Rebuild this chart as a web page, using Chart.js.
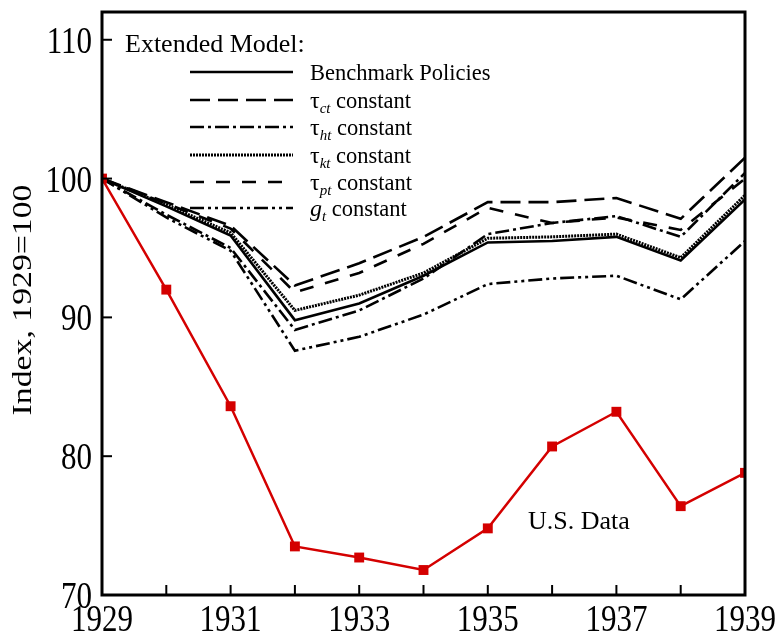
<!DOCTYPE html>
<html>
<head>
<meta charset="utf-8">
<title>Extended Model vs U.S. Data</title>
<script src="https://cdn.jsdelivr.net/npm/chart.js@4.4.1/dist/chart.umd.min.js"></script>
<style>
    html, body { margin: 0; padding: 0; background: #fff; }
    #wrap { width: 776px; height: 638px; }
</style>
</head>
<body>
<div id="wrap"><canvas id="chart" width="776" height="638"></canvas></div>
<script>
const years = [1929, 1930, 1931, 1932, 1933, 1934, 1935, 1936, 1937, 1938, 1939];
const usData = [100, 92.0, 83.6, 73.5, 72.7, 71.8, 74.8, 80.7, 83.2, 76.4, 78.8];
const benchmark = [100, 98.0, 95.9, 89.8, 91.0, 93.0, 95.4, 95.5, 95.8, 94.1, 98.5];
const tauCt = [100, 98.3, 96.6, 92.3, 93.9, 95.8, 98.3, 98.3, 98.6, 97.1, 101.5];
const tauHt = [100, 97.4, 95.0, 89.1, 90.5, 92.8, 96.0, 96.8, 97.3, 95.8, 100.4];
const tauKt = [100, 98.1, 96.1, 90.5, 91.6, 93.2, 95.7, 95.8, 96.0, 94.3, 98.8];
const tauPt = [100, 98.2, 96.4, 91.8, 93.2, 95.3, 97.9, 96.8, 97.2, 96.3, 100.0];
const gConst = [100, 97.2, 94.8, 87.6, 88.6, 90.2, 92.4, 92.8, 93.0, 91.3, 95.5];
const yTicks = [70, 80, 90, 100, 110];

const SERIF = "'Liberation Serif', 'Times New Roman', serif";
const RED = "#d40000";
const STRETCH = 1.25; // axis lettering is drawn a little tall and narrow

// legend rows: dash pattern, symbol + subscript (or plain text)
const legendRows = [
    { dash: [], base: "Benchmark Policies", sub: null, kind: "plain" },
    { dash: [20, 8], base: "\u03c4", sub: "ct", kind: "tau" },
    { dash: [14, 4, 3, 4], base: "\u03c4", sub: "ht", kind: "tau" },
    { dash: [2, 1], base: "\u03c4", sub: "kt", kind: "tau" },
    { dash: [14, 12], base: "\u03c4", sub: "pt", kind: "tau" },
    { dash: [14, 4, 3, 4, 3, 4], base: "g", sub: "t", kind: "g" }
];

function toPoints(values) {
    return values.map((v, i) => ({ x: years[i], y: v }));
}

function blackLine(label, values, dash, width) {
    return {
        label: label,
        data: toPoints(values),
        borderColor: "#000",
        borderWidth: width || 2.6,
        borderDash: dash,
        pointRadius: 0,
        tension: 0,
        order: 2
    };
}

function stretchedText(ctx, text, x, y, sx, sy) {
    ctx.save();
    ctx.translate(x, y);
    ctx.scale(sx, sy);
    ctx.fillText(text, 0, 0);
    ctx.restore();
}

// frame, inward ticks, axis lettering, in-plot legend and the "U.S. Data" note
const framePlugin = {
    id: "frame",
    afterDatasetsDraw(chart) {
        const ctx = chart.ctx;
        const area = chart.chartArea;
        const xs = chart.scales.x;
        const ys = chart.scales.y;

        ctx.save();
        ctx.strokeStyle = "#000";
        ctx.fillStyle = "#000";
        ctx.lineWidth = 2;
        ctx.setLineDash([]);
        xs.ticks.forEach(t => {
            const px = xs.getPixelForValue(t.value);
            ctx.beginPath();
            ctx.moveTo(px, area.bottom);
            ctx.lineTo(px, area.bottom - 10);
            ctx.stroke();
        });
        ys.ticks.forEach(t => {
            const py = ys.getPixelForValue(t.value);
            ctx.beginPath();
            ctx.moveTo(area.left, py);
            ctx.lineTo(area.left + 10, py);
            ctx.stroke();
        });

        ctx.lineWidth = 3;
        ctx.strokeRect(area.left, area.top, area.right - area.left, area.bottom - area.top);

        // tick labels
        ctx.font = "31px " + SERIF;
        ctx.textBaseline = "alphabetic";
        ctx.textAlign = "center";
        xs.ticks.forEach(t => {
            if (t.value % 2 !== 1) return;
            stretchedText(ctx, String(t.value), xs.getPixelForValue(t.value), area.bottom + 36, 1, STRETCH);
        });
        ctx.textAlign = "right";
        ys.ticks.forEach(t => {
            stretchedText(ctx, String(t.value), area.left - 10, ys.getPixelForValue(t.value) + 13, 1, STRETCH);
        });

        // axis title
        ctx.save();
        ctx.translate(31, 300);
        ctx.rotate(-Math.PI / 2);
        ctx.scale(STRETCH, 1);
        ctx.textAlign = "center";
        ctx.font = "27px " + SERIF;
        ctx.fillText("Index, 1929=100", 0, 0);
        ctx.restore();

        // legend
        ctx.textAlign = "left";
        ctx.font = "26px " + SERIF;
        ctx.fillText("Extended Model:", 125, 52);

        const rowY = [72, 100, 127, 155, 182, 208];
        legendRows.forEach((row, i) => {
            const y = rowY[i];
            ctx.beginPath();
            ctx.lineWidth = row.sub === "kt" ? 3 : 2.6;
            ctx.setLineDash(row.dash);
            ctx.moveTo(190, y);
            ctx.lineTo(293, y);
            ctx.stroke();
            ctx.setLineDash([]);

            let x = 310;
            const base = y + 8;
            if (row.kind === "plain") {
                ctx.font = "22.5px " + SERIF;
                ctx.fillText(row.base, x, base);
                return;
            }
            ctx.font = (row.kind === "g" ? "italic " : "") + "24px " + SERIF;
            ctx.fillText(row.base, x, base);
            x += ctx.measureText(row.base).width;
            ctx.font = "italic 15px " + SERIF;
            ctx.fillText(row.sub, x, base + 5);
            x += ctx.measureText(row.sub).width;
            ctx.font = "22.5px " + SERIF;
            ctx.fillText(" constant", x, base);
        });

        ctx.font = "26px " + SERIF;
        ctx.fillText("U.S. Data", 528, 529);
        ctx.restore();
    }
};

new Chart(
    document.getElementById("chart"),
    {
        type: "line",
        data: {
            datasets: [
                {
                    label: "U.S. Data",
                    data: toPoints(usData),
                    borderColor: RED,
                    backgroundColor: RED,
                    borderWidth: 2.5,
                    pointStyle: "rect",
                    pointRadius: 7,
                    pointBorderWidth: 0,
                    tension: 0,
                    order: 1
                },
                blackLine("Benchmark Policies", benchmark, []),
                blackLine("tau_ct constant", tauCt, [20, 8]),
                blackLine("tau_ht constant", tauHt, [14, 4, 3, 4]),
                blackLine("tau_kt constant", tauKt, [2, 1], 3),
                blackLine("tau_pt constant", tauPt, [14, 12]),
                blackLine("g_t constant", gConst, [14, 4, 3, 4, 3, 4])
            ]
        },
        options: {
            responsive: false,
            animation: false,
            layout: { padding: { top: 12, right: 31, left: 0, bottom: 0 } },
            plugins: {
                legend: { display: false },
                tooltip: { enabled: false }
            },
            scales: {
                x: {
                    type: "linear",
                    min: 1929,
                    max: 1939,
                    afterBuildTicks: scale => { scale.ticks = years.map(v => ({ value: v })); },
                    afterFit: scale => { scale.height = 43; },
                    grid: { display: false, drawTicks: false },
                    border: { display: false },
                    ticks: { display: false }
                },
                y: {
                    min: 70,
                    max: 112,
                    afterBuildTicks: scale => { scale.ticks = yTicks.map(v => ({ value: v })); },
                    afterFit: scale => { scale.width = 102; },
                    grid: { display: false, drawTicks: false },
                    border: { display: false },
                    ticks: { display: false }
                }
            }
        },
        plugins: [framePlugin]
    }
);
</script>
</body>
</html>
